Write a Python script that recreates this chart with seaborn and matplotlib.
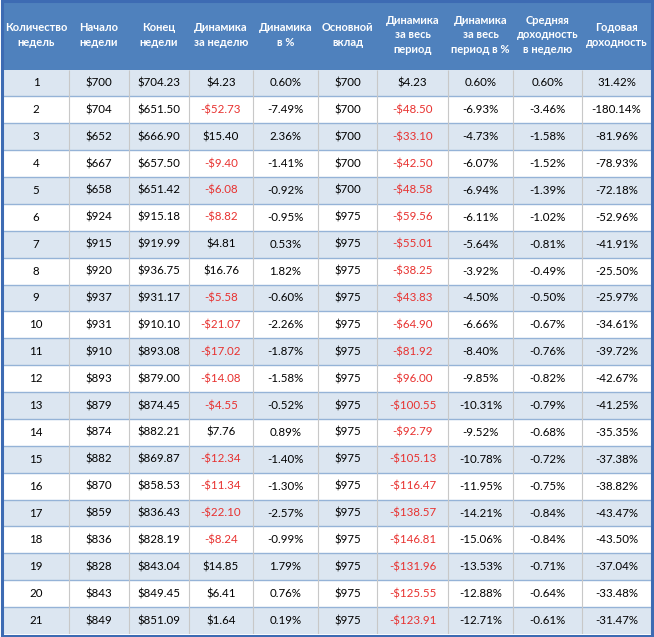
import numpy as np
import pandas as pd
import matplotlib
matplotlib.use("Agg")
import matplotlib.pyplot as plt
from matplotlib.colors import ListedColormap
from matplotlib.patches import Rectangle
import seaborn as sns

sns.set_theme(style="white")
plt.rcParams["font.family"] = ["Lato", "DejaVu Sans"]

# ---------------------------------------------------------------------------
# DATA
# ---------------------------------------------------------------------------
headers = ["Количество\nнедель", "Начало\nнедели", "Конец\nнедели",
           "Динамика\nза неделю", "Динамика\nв %", "Основной\nвклад",
           "Динамика\nза весь\nпериод", "Динамика\nза весь\nпериод в %",
           "Средняя\nдоходность\nв неделю", "Годовая\nдоходность"]

weeks = [1, 2, 3, 4, 5, 6, 7, 8, 9, 10, 11, 12, 13, 14, 15, 16, 17, 18, 19, 20, 21]
week_start = [700, 704, 652, 667, 658, 924, 915, 920, 937, 931, 910,
              893, 879, 874, 882, 870, 859, 836, 828, 843, 849]
week_end = [704.23, 651.50, 666.90, 657.50, 651.42, 915.18, 919.99, 936.75, 931.17, 910.10, 893.08,
            879.00, 874.45, 882.21, 869.87, 858.53, 836.43, 828.19, 843.04, 849.45, 851.09]
week_change = [4.23, -52.73, 15.40, -9.40, -6.08, -8.82, 4.81, 16.76, -5.58, -21.07, -17.02,
               -14.08, -4.55, 7.76, -12.34, -11.34, -22.10, -8.24, 14.85, 6.41, 1.64]
week_pct = [0.60, -7.49, 2.36, -1.41, -0.92, -0.95, 0.53, 1.82, -0.60, -2.26, -1.87,
            -1.58, -0.52, 0.89, -1.40, -1.30, -2.57, -0.99, 1.79, 0.76, 0.19]
deposit = [700, 700, 700, 700, 700, 975, 975, 975, 975, 975, 975,
           975, 975, 975, 975, 975, 975, 975, 975, 975, 975]
total_change = [4.23, -48.50, -33.10, -42.50, -48.58, -59.56, -55.01, -38.25, -43.83, -64.90, -81.92,
                -96.00, -100.55, -92.79, -105.13, -116.47, -138.57, -146.81, -131.96, -125.55, -123.91]
total_pct = [0.60, -6.93, -4.73, -6.07, -6.94, -6.11, -5.64, -3.92, -4.50, -6.66, -8.40,
             -9.85, -10.31, -9.52, -10.78, -11.95, -14.21, -15.06, -13.53, -12.88, -12.71]
avg_week = [0.60, -3.46, -1.58, -1.52, -1.39, -1.02, -0.81, -0.49, -0.50, -0.67, -0.76,
            -0.82, -0.79, -0.68, -0.72, -0.75, -0.84, -0.84, -0.71, -0.64, -0.61]
annual = [31.42, -180.14, -81.96, -78.93, -72.18, -52.96, -41.91, -25.50, -25.97, -34.61, -39.72,
          -42.67, -41.25, -35.35, -37.38, -38.82, -43.47, -43.50, -37.04, -33.48, -31.47]


def money(v):
    return f"-${abs(v):.2f}" if v < 0 else f"${v:.2f}"


def pct(v):
    return f"{v:.2f}%"


cells = pd.DataFrame({
    "weeks": [str(v) for v in weeks],
    "start": [f"${v}" for v in week_start],
    "end": [money(v) for v in week_end],
    "wchg": [money(v) for v in week_change],
    "wpct": [pct(v) for v in week_pct],
    "dep": [f"${v}" for v in deposit],
    "tchg": [money(v) for v in total_change],
    "tpct": [pct(v) for v in total_pct],
    "avg": [pct(v) for v in avg_week],
    "ann": [pct(v) for v in annual],
})
red_cols = {"wchg": week_change, "tchg": total_change}

# ---------------------------------------------------------------------------
# LAYOUT / STYLE
# ---------------------------------------------------------------------------
W, H = 654, 637
col_px = np.array([3, 69, 129, 189, 253, 318, 377, 448, 513, 582, 651])
header_px = 69.5
body_bottom_px = 634
n_rows, n_cols = len(weeks), len(headers)
row_h = (body_bottom_px - header_px) / n_rows
hdr = header_px / row_h

HEADER = "#4F81BD"
BORDER = "#3D6BB3"
STRIPE = "#DCE6F1"
HLINE = "#95B3D7"
VLINE = "#C8C8C8"
RED = "#E8312F"

fig = plt.figure(figsize=(W / 100, H / 100), dpi=100)
ax = fig.add_axes([col_px[0] / W, 1 - body_bottom_px / H,
                   (col_px[-1] - col_px[0]) / W, body_bottom_px / H])

# striped body via heatmap (row parity)
stripes = pd.DataFrame([[i % 2] * n_cols for i in range(n_rows)])
sns.heatmap(stripes, cmap=ListedColormap([STRIPE, "#FFFFFF"]), vmin=0, vmax=1,
            cbar=False, xticklabels=False, yticklabels=False, ax=ax)
ax.set_xlim(0, n_cols)
ax.set_ylim(n_rows, -hdr)

# header band
ax.axhspan(-hdr, 0, color=HEADER, lw=0)

# column positions in heatmap units
xu = (col_px - col_px[0]) / (col_px[-1] - col_px[0]) * n_cols
centers = (xu[:-1] + xu[1:]) / 2

ax.hlines(np.arange(1, n_rows), 0, n_cols, color=HLINE, lw=1.0)
ax.vlines(xu[1:-1], 0, n_rows, color=VLINE, lw=0.8)

for c, h in enumerate(headers):
    ax.text(centers[c], -hdr / 2, h, ha="center", va="center", color="white",
            fontsize=8.0, fontweight="bold", linespacing=1.4)

for c, key in enumerate(cells.columns):
    for r, s in enumerate(cells[key]):
        color = "black"
        if key in red_cols and red_cols[key][r] < 0:
            color = RED
        ax.text(centers[c], r + 0.5, s, ha="center", va="center",
                color=color, fontsize=8.3)

for s in ax.spines.values():
    s.set_visible(False)

# outer frame
fig.add_artist(Rectangle((1.5 / W, 1.5 / H), 650 / W, 634.5 / H, transform=fig.transFigure,
                         fill=False, edgecolor=BORDER, lw=2.2))

fig.savefig("out.png", dpi=100, facecolor="white")
